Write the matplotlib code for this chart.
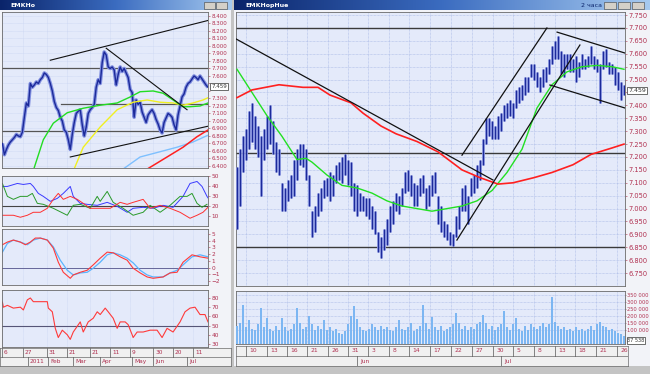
import matplotlib
matplotlib.use('Agg')
import matplotlib.pyplot as plt
from matplotlib.patches import Rectangle
from matplotlib.colors import LinearSegmentedColormap
from matplotlib.transforms import blended_transform_factory as blend
import numpy as np

# ======================= DATA =======================
# ---- right window: 2-hour bars (index 0..129) ----
r_high = [7.16, 7.23, 7.28, 7.31, 7.38, 7.41, 7.36, 7.32, 7.28, 7.31,
          7.36, 7.40, 7.34, 7.26, 7.23, 7.10, 7.08, 7.11, 7.13, 7.19,
          7.23, 7.25, 7.25, 7.23, 7.13, 6.99, 7.01, 7.06, 7.08, 7.11,
          7.12, 7.14, 7.13, 7.17, 7.18, 7.20, 7.21, 7.19, 7.18, 7.10,
          7.09, 7.06, 7.05, 7.04, 7.04, 7.01, 6.99, 6.91, 6.89, 6.92,
          6.96, 7.01, 7.03, 7.06, 7.05, 7.08, 7.14, 7.15, 7.13, 7.10,
          7.09, 7.12, 7.13, 7.08, 7.09, 7.13, 7.14, 7.05, 7.01, 6.95,
          6.94, 6.91, 6.90, 6.97, 7.01, 7.08, 7.09, 7.05, 7.12, 7.13,
          7.17, 7.19, 7.27, 7.35, 7.35, 7.34, 7.32, 7.36, 7.37, 7.40,
          7.41, 7.42, 7.41, 7.46, 7.47, 7.48, 7.51, 7.51, 7.56, 7.56,
          7.53, 7.51, 7.54, 7.55, 7.58, 7.63, 7.65, 7.67, 7.61, 7.60,
          7.60, 7.60, 7.58, 7.59, 7.57, 7.60, 7.58, 7.59, 7.63, 7.59,
          7.58, 7.56, 7.61, 7.62, 7.57, 7.56, 7.55, 7.53, 7.49, 7.48]
r_low = [6.92, 7.01, 7.14, 7.19, 7.23, 7.26, 7.23, 7.20, 7.05, 7.19,
         7.23, 7.25, 7.21, 7.14, 7.13, 6.99, 6.99, 7.03, 7.04, 7.05,
         7.11, 7.17, 7.16, 7.11, 7.01, 6.89, 6.91, 6.97, 6.99, 7.04,
         7.05, 7.03, 7.05, 7.10, 7.11, 7.10, 7.13, 7.09, 7.05, 6.99,
         6.97, 6.99, 6.99, 6.97, 6.96, 6.92, 6.90, 6.83, 6.81, 6.84,
         6.86, 6.91, 6.94, 6.99, 6.98, 7.01, 7.06, 7.07, 7.05, 7.01,
         7.01, 7.05, 7.06, 7.00, 7.01, 7.05, 7.06, 6.94, 6.91, 6.89,
         6.88, 6.86, 6.855, 6.89, 6.92, 6.99, 6.99, 6.94, 7.05, 7.06,
         7.08, 7.11, 7.17, 7.25, 7.28, 7.27, 7.27, 7.27, 7.30, 7.34,
         7.35, 7.36, 7.35, 7.39, 7.41, 7.42, 7.44, 7.45, 7.51, 7.50,
         7.47, 7.45, 7.47, 7.49, 7.52, 7.56, 7.58, 7.58, 7.52, 7.51,
         7.54, 7.53, 7.53, 7.49, 7.51, 7.54, 7.54, 7.55, 7.56, 7.54,
         7.53, 7.41, 7.54, 7.55, 7.52, 7.52, 7.48, 7.46, 7.42, 7.44]
r_volume = [130, 150, 280, 120, 170, 110, 100, 140, 255, 120,
            185, 110, 95, 130, 100, 185, 120, 90, 110, 140,
            255, 150, 110, 120, 200, 140, 100, 130, 110, 170,
            100, 120, 90, 110, 80, 70, 90, 140, 200, 270,
            180, 120, 100, 90, 110, 140, 120, 100, 130, 110,
            120, 100, 90, 120, 170, 110, 100, 120, 150, 90,
            110, 130, 280, 150, 110, 195, 120, 100, 130, 90,
            110, 120, 140, 220, 150, 110, 130, 100, 120, 110,
            140, 160, 205, 150, 110, 130, 100, 120, 140, 240,
            120, 100, 140, 185, 110, 90, 130, 100, 140, 120,
            110, 130, 150, 120, 140, 335, 160, 130, 110, 120,
            100, 110, 90, 120, 100, 110, 90, 110, 130, 100,
            140, 155, 130, 120, 100, 110, 90, 80, 70, 60]  # thousands
r_fast_t = [0, 5, 10, 15, 20, 23, 25, 30, 35, 40, 45, 50, 55, 60, 65, 70,
            75, 80, 85, 90, 95, 100, 105, 110, 115, 120, 125, 129]
r_fast_v = [7.54, 7.45, 7.36, 7.28, 7.19, 7.195, 7.18, 7.13, 7.09, 7.08, 7.06,
            7.03, 7.01, 7.00, 6.99, 7.00, 7.01, 7.03, 7.07, 7.14, 7.23, 7.39,
            7.48, 7.53, 7.55, 7.555, 7.55, 7.54]
r_slow_t = [0, 5, 14, 22, 27, 31, 38, 42, 48, 53, 60, 67, 75, 81, 87, 92,
            99, 105, 112, 118, 125, 129]
r_slow_v = [7.43, 7.46, 7.48, 7.47, 7.47, 7.44, 7.41, 7.37, 7.32, 7.29, 7.26,
            7.22, 7.15, 7.12, 7.095, 7.10, 7.12, 7.14, 7.17, 7.21, 7.235, 7.25]
r_levels = [7.70, 7.215, 6.85]
r_trend_t0 = [-0.7, 73.3, 75.0, 106.7, 104.3]
r_trend_v0 = [7.66, 6.878, 7.207, 7.684, 7.479]
r_trend_t1 = [85.3, 114.3, 103.3, 129.3, 129.3]
r_trend_v1 = [7.111, 7.634, 7.70, 7.603, 7.39]
r_ticks = [6.75, 6.80, 6.85, 6.90, 6.95, 7.00, 7.05, 7.10, 7.15, 7.20, 7.25,
           7.30, 7.35, 7.40, 7.45, 7.50, 7.55, 7.60, 7.65, 7.70, 7.75]
r_last = 7.459
r_vol_ticks = [100, 150, 200, 250, 300, 350]
r_vol_last = '37 538'
r_day_pos = [3, 10, 16.7, 23.3, 30.3, 37, 43.7, 50.7, 57.3, 64.3, 71.3, 78.3,
             85.3, 92, 99, 106, 112.7, 119.7, 126.7]
r_day_lab = ['10', '13', '16', '21', '26', '31', '3', '8', '14', '17', '22',
             '27', '30', '5', '8', '13', '18', '21', '26']
r_mon_pos = [40, 88]
r_mon_lab = ['Jun', 'Jul']

# ---- left window: daily closes (index 0..103) ----
l_close = [6.70, 6.55, 6.62, 6.68, 6.72, 6.75, 6.78, 6.82, 6.80, 6.79,
           6.85, 7.05, 7.24, 7.20, 7.50, 7.45, 7.48, 7.52, 7.50, 7.55,
           7.58, 7.64, 7.62, 7.58, 7.50, 7.40, 7.26, 7.18, 7.14, 7.05,
           7.00, 6.88, 6.85, 6.75, 6.62, 6.82, 6.98, 7.10, 7.13, 7.15,
           6.95, 6.80, 6.92, 7.10, 7.15, 7.18, 7.22, 7.45, 7.55, 7.50,
           7.78, 7.92, 7.88, 7.72, 7.70, 7.72, 7.68, 7.48, 7.62, 7.72,
           7.66, 7.70, 7.64, 7.58, 7.42, 7.38, 7.05, 7.28, 7.22, 7.25,
           7.12, 7.05, 6.98, 7.08, 7.12, 7.15, 7.10, 7.02, 6.96, 6.88,
           6.84, 6.98, 7.04, 7.10, 7.08, 7.05, 6.95, 6.88, 7.08, 7.20,
           7.32, 7.36, 7.45, 7.50, 7.52, 7.56, 7.60, 7.58, 7.55, 7.60,
           7.56, 7.52, 7.48, 7.45]
l_last = 7.459
l_green_t = [15, 20.5, 25.5, 32.5, 40.5, 49, 57.5, 64, 69, 75.5, 80.5, 85.5, 90.5, 94, 99, 103]
l_green_v = [6.30, 6.75, 6.97, 7.11, 7.17, 7.21, 7.24, 7.32, 7.39, 7.40, 7.37, 7.28, 7.19, 7.19, 7.20, 7.24]
l_yellow_t = [35, 40.5, 49, 57.5, 65.5, 72.5, 79, 85.5, 90.5, 95.5, 100.5, 103]
l_yellow_v = [6.30, 6.65, 6.92, 7.15, 7.25, 7.28, 7.25, 7.24, 7.21, 7.24, 7.28, 7.31]
l_sky_t = [60, 69, 79, 87.5, 95.5, 103]
l_sky_v = [6.35, 6.52, 6.59, 6.65, 6.72, 6.81]
l_red_t = [72, 82.5, 90.5, 97.5, 103]
l_red_v = [6.35, 6.52, 6.65, 6.79, 6.88]
l_trend_t0 = [24, 52, 34]
l_trend_v0 = [7.81, 7.97, 6.52]
l_trend_t1 = [103, 92.5, 103]
l_trend_v1 = [8.34, 7.15, 6.93]
l_level_v = [7.70, 7.23, 6.87]
l_level_start = [-1, 29.5, -1]
l_ticks = [6.4, 6.5, 6.6, 6.7, 6.8, 6.9, 7.0, 7.1, 7.2, 7.3, 7.4, 7.5, 7.6,
           7.7, 7.8, 7.9, 8.0, 8.1, 8.2, 8.3, 8.4]

# DMI panel
dmi_blue_t = [0, 2.5, 7.5, 10.5, 14, 15.5, 18, 20.5, 24, 27.5, 30.5, 34, 35.5, 39, 42.5,
              47.5, 52.5, 57.5, 62.5, 65.5, 70.5, 75.5, 80.5, 85.5, 90.5, 94, 97.5, 100, 102.5, 103.5]
dmi_blue_v = [40, 40, 43, 42, 43, 40, 33, 30, 25, 28, 33, 40, 30, 23, 22,
              21, 24, 20, 14, 18, 19, 18, 21, 19, 30, 43, 45, 40, 30, 27]
dmi_green_t = [0, 2.5, 5.5, 9, 12.5, 15, 17.5, 20.5, 25.5, 32.5, 35.5, 39, 44, 47.5, 49,
               52.5, 55.5, 60.5, 65.5, 70.5, 74, 79, 84, 89, 92.5, 95, 97.5, 100, 102.5]
dmi_green_v = [43, 30, 27, 30, 30, 33, 23, 22, 18, 11, 21, 22, 18, 30, 25,
               35, 24, 18, 11, 14, 21, 14, 21, 30, 30, 33, 23, 19, 22]
dmi_red_t = [0, 2.5, 5.5, 9, 12.5, 15.5, 19, 22.5, 25.5, 28, 30.5, 34, 37.5, 40.5, 44,
             49, 54, 59, 62.5, 65.5, 70.5, 74, 79, 84, 89, 94, 97.5, 100.5, 103]
dmi_red_v = [11, 11, 11, 9, 11, 14, 14, 18, 27, 33, 27, 30, 27, 23, 18,
             18, 18, 24, 22, 24, 27, 18, 21, 18, 14, 8, 11, 14, 19]
# MACD panel
macd_t = [0, 2.5, 5.5, 9, 11.5, 14, 16.5, 19, 22.5, 25.5, 28, 30.5, 34, 35.5, 39, 42.5,
          45.5, 49, 52.5, 55.5, 59, 62.5, 65.5, 69, 72.5, 75.5, 80.5, 84, 87.5, 90.5, 95, 99, 103]
macd_v = [3.4, 3.8, 4.1, 3.8, 3.4, 3.8, 4.4, 4.4, 4.1, 2.9, 0.8, -0.7, -1.6, -1.1, -0.7, -0.4,
          0.4, 1.4, 2.3, 2.2, 1.6, 1.1, -0.1, -0.8, -1.4, -1.6, -1.4, -0.8, -0.7, 0.8, 1.9, 1.6, 1.4]
sig_t = [0, 2.5, 5.5, 9, 12.5, 15.5, 19, 22.5, 25.5, 29, 32.5, 35.5, 39, 42.5, 45.5, 49,
         52.5, 55.5, 59, 62.5, 65.5, 69, 72.5, 75.5, 80.5, 84, 87.5, 90.5, 95, 99, 103]
sig_v = [2.3, 3.6, 4.1, 3.8, 3.4, 4.1, 4.4, 4.1, 3.1, 1.1, -0.4, -1.1, -0.8, -0.7, -0.1, 0.8,
         1.9, 2.2, 1.9, 1.4, 0.7, -0.4, -1.1, -1.4, -1.4, -0.8, -0.4, 0.4, 1.6, 1.9, 1.6]
# RSI panel
rsi_t = [0, 0.5, 2.5, 5.5, 9, 10.5, 12.5, 14, 15.5, 18, 20.5, 22.5, 23, 25, 26.5, 28, 30,
         32.5, 34, 35.5, 39, 40.5, 43, 45.5, 47.5, 49, 51.5, 53, 55.5, 57.5, 59, 61.5, 63,
         65, 65.5, 67.5, 70.5, 74, 77.5, 80, 82.5, 85.5, 89, 91.5, 94, 96.5, 99, 101.5, 103]
rsi_v = [75.6, 70, 72, 69, 70, 67, 78, 80, 76, 76, 76, 76, 69, 65, 47, 37, 45,
         40, 35, 43, 54, 43, 54, 58, 65, 62, 69, 65, 58, 47, 54, 54, 51,
         40, 37, 43, 43, 45, 45, 37, 47, 43, 54, 65, 69, 70, 62, 62, 54]
l_day_pos = [-0.2, 10.3, 22.3, 32.3, 44, 54, 64, 75.5, 85.5, 95.5]
l_day_lab = ['6', '27', '31', '21', '21', '11', '9', '30', '20', '11']
l_mon_pos = [13, 23, 35.5, 49, 65, 75.5, 92.5]
l_mon_lab = ['2011', 'Feb', 'Mar', 'Apr', 'May', 'Jun', 'Jul']

# ======================= FIGURE =======================
W, H = 650, 374
fig = plt.figure(figsize=(W / 100, H / 100), dpi=100)
fig.patch.set_facecolor('#c4c4c4')

LBL = '#b03050'
BG = '#e4eafa'
GRID = '#a9b9e6'


def rect(x0, y0, x1, y1):
    return [x0 / W, 1 - y1 / H, (x1 - x0) / W, (y1 - y0) / H]


def fbox(x0, y0, x1, y1, fc, ec='none', lw=0.0, z=-1):
    fig.add_artist(Rectangle((x0 / W, 1 - y1 / H), (x1 - x0) / W, (y1 - y0) / H,
                             transform=fig.transFigure, facecolor=fc, edgecolor=ec,
                             linewidth=lw, zorder=z))


def ftext(x, y, s, **kw):
    fig.text(x / W, 1 - y / H, s, **kw)


# window backgrounds
fbox(0, 10, 231, 368, '#f2f3f8')
fbox(234, 10, 650, 368, '#f2f3f8')
fbox(0, 366, 650, 374, '#c4c4c4')

# title bars
cmap_t = LinearSegmentedColormap.from_list('t', ['#0a246a', '#3b6cc0', '#a6caf0'])
for (x0, x1) in [(0, 231), (234, 650)]:
    tb = fig.add_axes(rect(x0, 0, x1, 10))
    tb.imshow(np.linspace(0, 1, 256)[None, :], aspect='auto', cmap=cmap_t)
    tb.axis('off')
ftext(10, 5.5, 'EMKHo', color='white', fontsize=4.5, va='center', fontweight='bold')
ftext(245, 5.5, 'EMKHopHue', color='white', fontsize=4.5, va='center', fontweight='bold')
ftext(602, 5.5, '2 часа', color='#0a246a', fontsize=4.5, va='center', ha='right')
for bx in [604, 618, 632]:
    fbox(bx, 2, bx + 12, 9, '#d4d0c8', ec='#404040', lw=0.4, z=5)
for bx in [204, 216]:
    fbox(bx, 2, bx + 11, 9, '#d4d0c8', ec='#404040', lw=0.4, z=5)


def style(ax, fs=4.5):
    ax.set_facecolor(BG)
    for s in ax.spines.values():
        s.set_color('#6a6a6a')
        s.set_linewidth(0.6)
    ax.yaxis.tick_right()
    ax.tick_params(axis='y', length=1.5, width=0.4, labelsize=fs, colors=LBL, pad=1)
    ax.tick_params(axis='x', length=0)
    ax.set_xticklabels([])


def price_labels(ticks, last, half):
    # the tick labels hidden under the last-price box are left blank
    return ['' if abs(v - last) < half else f'{v:.3f}' for v in ticks]


# ---------------- right price panel ----------------
ax = fig.add_axes(rect(236, 12, 625, 286))
style(ax, 4.8)
ri = np.arange(len(r_high))
ax.set_xlim(-1 / 3, 129 + 1 / 3)
ax.set_ylim(6.70, 7.762)
ax.set_yticks(r_ticks)
ax.set_yticklabels(price_labels(r_ticks, r_last, 0.03))
ax.set_xticks(r_day_pos)
ax.grid(True, color=GRID, lw=0.5, ls=(0, (1, 1)))
for v in r_levels:
    ax.axhline(v, color='#3a3a3a', lw=1.0, zorder=2)
ax.vlines(ri, r_low, r_high, color='#8d99e4', lw=2.0, zorder=3)
ax.vlines(ri, r_low, r_high, color='#1c2a9a', lw=0.9, zorder=4)
ax.plot(r_fast_t, r_fast_v, color='#22e022', lw=1.0, zorder=5)
ax.plot(r_slow_t, r_slow_v, color='#ff2020', lw=1.2, zorder=5)
for t0, v0, t1, v1 in zip(r_trend_t0, r_trend_v0, r_trend_t1, r_trend_v1):
    ax.plot([t0, t1], [v0, v1], color='#111111', lw=0.9, zorder=6)
tr = blend(ax.transAxes, ax.transData)
ax.text(1.008, r_last, f'{r_last:.3f}', transform=tr, fontsize=4.5, va='center',
        color='#333333', bbox=dict(fc='white', ec='#333333', lw=0.5, pad=0.8), clip_on=False)

# ---------------- right volume panel ----------------
av = fig.add_axes(rect(236, 291, 625, 344))
style(av, 3.7)
av.set_xlim(-1 / 3, 129 + 1 / 3)
av.set_ylim(0, 380)
av.set_yticks(r_vol_ticks)
av.set_yticklabels([f'{v} 000' for v in r_vol_ticks])
av.tick_params(axis='y', pad=0.5, length=1)
av.set_xticks(r_day_pos)
av.grid(True, color=GRID, lw=0.5, ls=(0, (1, 1)))
av.bar(ri, r_volume, width=0.75, color='#7cb6f2', zorder=3)
trv = blend(av.transAxes, av.transData)
av.text(1.006, 25, r_vol_last, transform=trv, fontsize=3.6, va='center', color='#333333',
        bbox=dict(fc='white', ec='#333333', lw=0.5, pad=0.5), clip_on=False)

# ---------------- right date strip ----------------
ad = fig.add_axes(rect(236, 346, 628, 366))
ad.set_facecolor('#f0f0f0')
ad.set_xlim(-1 / 3, 130.33)
ad.set_ylim(0, 2)
ad.set_xticks([]); ad.set_yticks([])
for s in ad.spines.values():
    s.set_color('#6a6a6a'); s.set_linewidth(0.5)
ad.axhline(1, color='#6a6a6a', lw=0.5)
for p, lab in zip(r_day_pos, r_day_lab):
    ad.plot([p, p], [1, 2], color='#555555', lw=0.5)
    ad.text(p + 1.2, 1.5, lab, fontsize=4.3, color=LBL, va='center', ha='left')
for p, lab in zip(r_mon_pos, r_mon_lab):
    ad.plot([p, p], [0, 1], color='#555555', lw=0.5)
    ad.text(p + 1.0, 0.5, lab, fontsize=4.3, color=LBL, va='center', ha='left')

# ---------------- left price panel ----------------
li = np.arange(len(l_close))
al = fig.add_axes(rect(2, 12, 208, 168))
style(al, 4.0)
al.set_xlim(0, 103)
al.set_ylim(6.373, 8.453)
al.set_yticks(l_ticks)
al.set_yticklabels(price_labels(l_ticks, l_last, 0.07))
al.set_xticks(l_day_pos)
al.grid(True, color='#c3cff0', lw=0.4, ls=(0, (1, 1)))
for v, st in zip(l_level_v, l_level_start):
    al.plot([st, 104], [v, v], color='#555555', lw=0.9, zorder=2)
al.plot(li, l_close, color='#8290e0', lw=2.6, zorder=3, solid_capstyle='butt')
al.plot(li, l_close, color='#1c2a9a', lw=1.0, zorder=4)
al.plot(l_sky_t, l_sky_v, color='#7ec0ff', lw=1.0, zorder=5)
al.plot(l_red_t, l_red_v, color='#ff2020', lw=1.1, zorder=5)
al.plot(l_yellow_t, l_yellow_v, color='#f0f020', lw=1.0, zorder=5)
al.plot(l_green_t, l_green_v, color='#22dd22', lw=1.0, zorder=5)
for t0, v0, t1, v1 in zip(l_trend_t0, l_trend_v0, l_trend_t1, l_trend_v1):
    al.plot([t0, t1], [v0, v1], color='#111111', lw=0.8, zorder=6)
trl = blend(al.transAxes, al.transData)
al.text(1.015, l_last, f'{l_last:.3f}', transform=trl, fontsize=4.0, va='center', color='#333333',
        bbox=dict(fc='white', ec='#333333', lw=0.5, pad=0.6), clip_on=False)

# ---------------- left DMI ----------------
a2 = fig.add_axes(rect(2, 176, 208, 226))
style(a2, 4.2)
a2.set_xlim(0, 103)
a2.set_ylim(0.2, 50.5)
a2.set_yticks([10, 20, 30, 40, 50])
a2.set_xticks(l_day_pos)
a2.grid(True, axis='x', color='#c3cff0', lw=0.4, ls=(0, (1, 1)))
a2.axhline(20, color='#444444', lw=0.8)
a2.plot(dmi_blue_t, dmi_blue_v, color='#3a3aff', lw=0.7)
a2.plot(dmi_green_t, dmi_green_v, color='#2a9a2a', lw=0.7)
a2.plot(dmi_red_t, dmi_red_v, color='#ff3030', lw=0.7)

# ---------------- left MACD ----------------
a3 = fig.add_axes(rect(2, 229, 208, 285))
style(a3, 4.2)
a3.set_xlim(0, 103)
a3.set_ylim(-2.6, 5.75)
a3.set_yticks([-2, -1, 0, 1, 2, 3, 4, 5])
a3.set_xticks(l_day_pos)
a3.grid(True, axis='x', color='#c3cff0', lw=0.4, ls=(0, (1, 1)))
a3.axhline(0, color='#666699', lw=0.7)
a3.plot(sig_t, sig_v, color='#5ab4ff', lw=0.9)
a3.plot(macd_t, macd_v, color='#ff3a3a', lw=0.8)

# ---------------- left RSI ----------------
a4 = fig.add_axes(rect(2, 290, 208, 347))
style(a4, 4.2)
a4.set_xlim(0, 103)
a4.set_ylim(26.7, 88.7)
a4.set_yticks([30, 40, 50, 60, 70, 80])
a4.set_xticks(l_day_pos)
a4.grid(True, axis='x', color='#c3cff0', lw=0.4, ls=(0, (1, 1)))
a4.axhline(50, color='#555577', lw=0.8)
a4.plot(rsi_t, rsi_v, color='#ff3a3a', lw=0.8)

# ---------------- left date strip ----------------
a5 = fig.add_axes(rect(0, 348, 231, 366))
a5.set_facecolor('#f0f0f0')
a5.set_xlim(-1, 114.5)
a5.set_ylim(0, 2)
a5.set_xticks([]); a5.set_yticks([])
for s in a5.spines.values():
    s.set_color('#6a6a6a'); s.set_linewidth(0.5)
a5.axhline(1, color='#6a6a6a', lw=0.5)
for p, lab in zip(l_day_pos, l_day_lab):
    a5.plot([p, p], [1, 2], color='#555555', lw=0.5)
    a5.text(p + 1.0, 1.5, lab, fontsize=4.2, color=LBL, va='center', ha='left')
for p, lab in zip(l_mon_pos, l_mon_lab):
    a5.plot([p, p], [0, 1], color='#555555', lw=0.5)
    a5.text(p + 1.0, 0.5, lab, fontsize=4.2, color=LBL, va='center', ha='left')

fig.savefig('out.png', dpi=100, facecolor=fig.get_facecolor())
